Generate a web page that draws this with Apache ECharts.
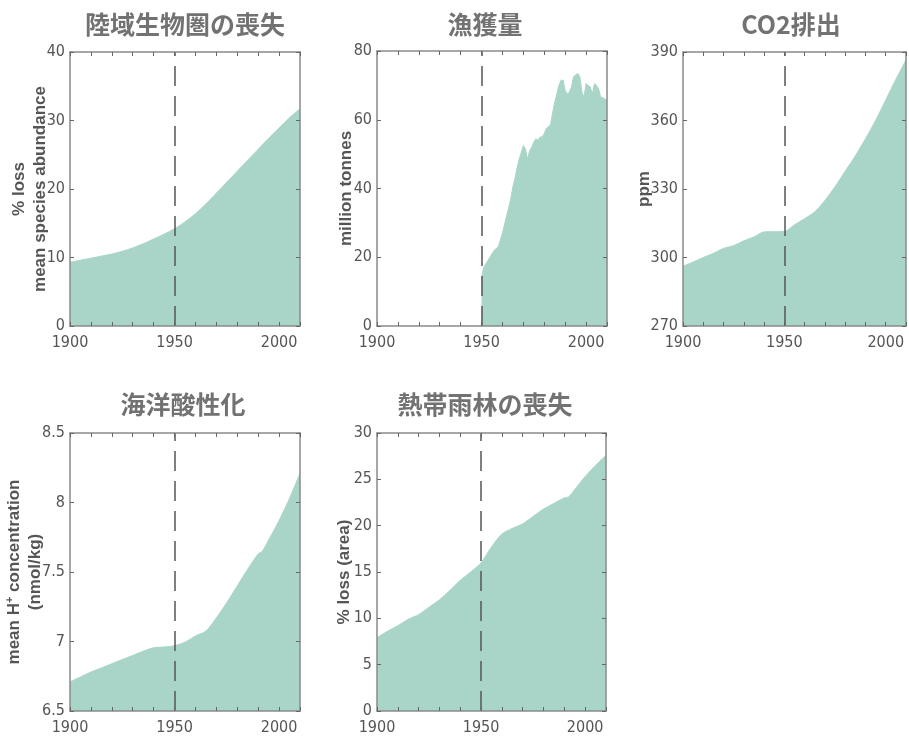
<!DOCTYPE html>
<html>
<head>
<meta charset="utf-8">
<script src="https://cdn.jsdelivr.net/npm/echarts@6/dist/echarts.min.js"></script>
<style>
  html, body { margin: 0; padding: 0; background: #ffffff; }
  #chart { width: 909px; height: 739px; }
</style>
</head>
<body>
<div id="chart"></div>
<script>
// Panel titles
const panelTitles = ['陸域生物圏の喪失', '漁獲量', 'CO2排出', '海洋酸性化', '熱帯雨林の喪失'];

// Shared x-axis labels (years)
const xTickLabels = [1900, 1950, 2000];

// Terrestrial biosphere: % loss of mean species abundance
const landYears = [1900, 1905, 1910, 1915, 1920, 1925, 1930, 1935, 1940, 1945, 1950, 1955,
                   1960, 1965, 1970, 1975, 1980, 1985, 1990, 1995, 2000, 2005, 2010];
const landLoss  = [9.3, 9.6, 9.9, 10.2, 10.5, 10.9, 11.4, 12.0, 12.7, 13.4, 14.2, 15.2,
                   16.4, 17.8, 19.4, 21.0, 22.6, 24.2, 25.8, 27.4, 28.9, 30.4, 31.7];

// Marine fish capture, million tonnes
const fishYears = [1950, 1951, 1952, 1953, 1954, 1955, 1956, 1957, 1958, 1959,
                   1960, 1961, 1962, 1963, 1964, 1965, 1966, 1967, 1968, 1969,
                   1970, 1971, 1972, 1973, 1974, 1975, 1976, 1977, 1978, 1979,
                   1980, 1981, 1982, 1983, 1984, 1985, 1986, 1987, 1988, 1989,
                   1990, 1991, 1992, 1993, 1994, 1995, 1996, 1997, 1998, 1999,
                   2000, 2001, 2002, 2003, 2004, 2005, 2006, 2007, 2008, 2009, 2010];
const fishCatch = [14, 17, 18, 19, 20, 21, 22, 22.5, 23, 25,
                   27, 29.5, 32, 34.5, 37, 40.5, 43, 46, 48.5, 50.5,
                   52.5, 51.5, 48.5, 51, 52, 53.5, 54.5, 54, 55, 55,
                   56, 57.5, 58, 58.5, 62, 65, 67.5, 70, 71.5, 71.5,
                   68.5, 67.5, 68, 69.5, 72.5, 73, 73.5, 72.5, 68, 66.5,
                   70.5, 70, 69.5, 67.5, 70.5, 70, 69, 66.5, 66.5, 66, 65.5];

// Atmospheric CO2, ppm
const co2Years = [1900, 1905, 1910, 1915, 1920, 1925, 1930, 1935, 1940, 1945, 1950, 1955,
                  1960, 1965, 1970, 1975, 1980, 1985, 1990, 1995, 2000, 2005, 2010];
const co2Ppm   = [296.2, 298, 300, 301.8, 304, 305.2, 307.3, 309, 311.2, 311.3, 311.4, 314.3,
                  317, 320, 325, 331, 337.8, 344.5, 352, 360, 369, 378, 386.5];

// Ocean acidification: mean H+ concentration, nmol/kg
const ocnYears = [1900, 1905, 1910, 1915, 1920, 1925, 1930, 1935, 1940, 1945, 1950, 1955,
                  1960, 1965, 1970, 1975, 1980, 1985, 1990, 1992, 1995, 2000, 2005, 2010];
const ocnHplus = [6.71, 6.745, 6.78, 6.81, 6.84, 6.87, 6.9, 6.93, 6.955, 6.96, 6.97, 6.995,
                  7.04, 7.075, 7.17, 7.28, 7.4, 7.52, 7.63, 7.65, 7.73, 7.87, 8.03, 8.21];

// Tropical forest: % loss of area
const forYears = [1900, 1905, 1910, 1915, 1920, 1925, 1930, 1935, 1940, 1945, 1950, 1955,
                  1960, 1965, 1970, 1975, 1980, 1985, 1990, 1992, 1995, 2000, 2005, 2010];
const forLoss  = [7.9, 8.6, 9.2, 9.9, 10.4, 11.2, 12.0, 13.0, 14.1, 15.0, 16.0, 17.7,
                  19.1, 19.7, 20.2, 21.0, 21.8, 22.4, 23.0, 23.1, 23.9, 25.3, 26.5, 27.6];

const pairs = (xs, ys) => xs.map((x, i) => [x, ys[i]]);

const FILL = '#a9d5c9';
const FRAME = '#8a8a8a';
const TICK = '#666666';
const TEXT = '#555555';
const NUM_FONT = '"Liberation Sans Narrow", "Arial Narrow", "DejaVu Sans Condensed", "Liberation Sans", Arial, sans-serif';
const NAME_FONT = '"Liberation Sans", Arial, sans-serif';

const panels = [
  { grid: { left: 70, top: 52, width: 230, height: 274 },
    y: { min: 0, max: 40, interval: 10 },
    name: '% loss\nmean species abundance', nameGap: 19,
    data: pairs(landYears, landLoss), smooth: 0.3, title: [185, 24] },
  { grid: { left: 377, top: 51, width: 230, height: 275 },
    y: { min: 0, max: 80, interval: 20 },
    name: 'million tonnes', nameGap: 20,
    data: pairs(fishYears, fishCatch), smooth: false, title: [485, 24] },
  { grid: { left: 683, top: 52, width: 229, height: 274 },
    y: { min: 270, max: 390, interval: 30 },
    name: 'ppm', nameGap: 28,
    data: pairs(co2Years, co2Ppm), smooth: 0.3, title: [791, 24] },
  { grid: { left: 70, top: 433, width: 230, height: 278 },
    y: { min: 6.5, max: 8.5, interval: 0.5 },
    name: 'mean H{sup|+} concentration\n(nmol/kg)', nameGap: 24,
    data: pairs(ocnYears, ocnHplus), smooth: 0.3, title: [183, 404] },
  { grid: { left: 377, top: 433, width: 229, height: 278 },
    y: { min: 0, max: 30, interval: 5 },
    name: '% loss (area)', nameGap: 22,
    data: pairs(forYears, forLoss), smooth: 0.3, title: [485, 404] }
];

const option = {
  animation: false,
  backgroundColor: '#ffffff',
  grid: [], xAxis: [], yAxis: [], series: [], graphic: []
};

panels.forEach((p, i) => {
  option.grid.push(Object.assign({ containLabel: false }, p.grid));

  const xBase = {
    gridIndex: i, type: 'value', min: 1900, max: 2010, interval: 10, z: 5,
    axisLine: { show: true, onZero: false, lineStyle: { color: FRAME, width: 1.5 } },
    axisTick: { show: true, inside: true, length: 4, lineStyle: { color: TICK, width: 1 } },
    splitLine: { show: false }
  };
  option.xAxis.push(Object.assign({}, xBase, {
    position: 'bottom',
    axisLabel: {
      show: true, margin: 9, color: TEXT, fontFamily: NUM_FONT, fontSize: 16,
      formatter: v => (xTickLabels.indexOf(v) >= 0 ? String(v) : '')
    }
  }));
  option.xAxis.push(Object.assign({}, xBase, { position: 'top', axisLabel: { show: false } }));

  const yBase = {
    gridIndex: i, type: 'value', min: p.y.min, max: p.y.max, interval: p.y.interval, z: 5,
    axisLine: { show: true, onZero: false, lineStyle: { color: FRAME, width: 1.5 } },
    axisTick: { show: true, inside: true, length: 4, lineStyle: { color: TICK, width: 1 } },
    splitLine: { show: false }
  };
  option.yAxis.push(Object.assign({}, yBase, {
    position: 'left',
    axisLabel: { show: true, margin: 5, color: TEXT, fontFamily: NUM_FONT, fontSize: 16 },
    name: p.name, nameLocation: 'middle', nameRotate: 90, nameGap: p.nameGap,
    nameMoveOverlap: false,
    nameTextStyle: {
      color: TEXT, fontFamily: NAME_FONT, fontWeight: 'bold', fontSize: 17, lineHeight: 21,
      rich: { sup: { color: TEXT, fontFamily: NAME_FONT, fontWeight: 'bold', fontSize: 11,
                     lineHeight: 21, verticalAlign: 'top' } }
    }
  }));
  option.yAxis.push(Object.assign({}, yBase, { position: 'right', axisLabel: { show: false } }));

  option.series.push({
    type: 'line', xAxisIndex: 2 * i, yAxisIndex: 2 * i,
    data: p.data, smooth: p.smooth, showSymbol: false, symbol: 'none',
    lineStyle: { width: 1, color: FILL },
    areaStyle: { color: FILL, opacity: 1, origin: 'start' },
    z: 2,
    markLine: {
      silent: true, symbol: ['none', 'none'], label: { show: false },
      lineStyle: { type: [20, 10], color: '#555555', width: 1.5 },
      data: [{ xAxis: 1950 }]
    }
  });

  option.graphic.push({
    type: 'text', x: p.title[0], y: p.title[1], z: 10,
    style: {
      text: panelTitles[i], fill: '#727272',
      font: 'bold 25px "Noto Sans CJK JP", sans-serif',
      textAlign: 'center', textVerticalAlign: 'middle', align: 'center', verticalAlign: 'middle'
    }
  });
});

const chart = echarts.init(document.getElementById('chart'), null, { renderer: 'canvas' });
chart.setOption(option);
</script>
</body>
</html>
